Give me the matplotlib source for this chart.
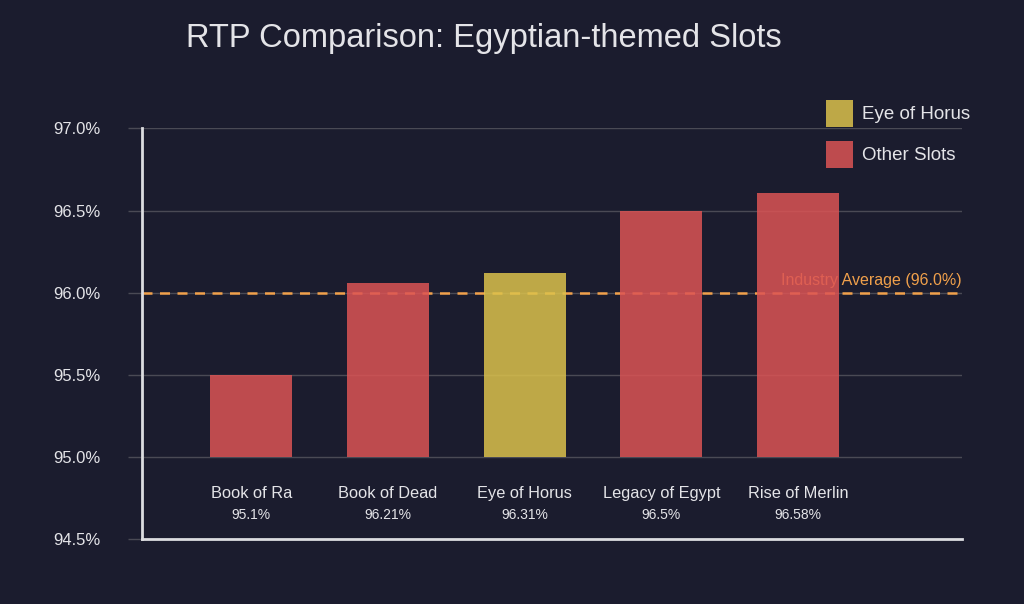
import matplotlib.pyplot as plt
from matplotlib.patches import Patch

# data
slots = ['Book of Ra', 'Book of Dead', 'Eye of Horus', 'Legacy of Egypt', 'Rise of Merlin']
bar_tops = [95.5, 96.06, 96.12, 96.5, 96.61]
rtp_labels = ['95.1%', '96.21%', '96.31%', '96.5%', '96.58%']
highlight = 'Eye of Horus'
industry_avg = 96.0
base = 95.0
yticks = [94.5, 95.0, 95.5, 96.0, 96.5, 97.0]

bg = '#1b1c2e'
red = '#dc5454'
gold = '#dcc24c'
txt = '#e4e4e8'
grid = '#4a4a55'
orange = '#f0a04b'

plt.rcParams['font.family'] = ['Liberation Sans', 'DejaVu Sans']

fig = plt.figure(figsize=(10.24, 6.04), dpi=100, facecolor=bg)
ax = fig.add_axes([0.1387, 0.1076, 0.8008, 0.6797], facecolor=bg)

colors = [gold if s == highlight else red for s in slots]
heights = [t - base for t in bar_tops]
x = list(range(len(slots)))

# average line and label sit behind the bars
ax.axhline(industry_avg, color=orange, linestyle=(0, (4, 3)), linewidth=1.8, zorder=1)
ax.text(5.2, industry_avg + 0.03, 'Industry Average (%.1f%%)' % industry_avg,
        color=orange, fontsize=11.5, ha='right', va='bottom', zorder=1)

ax.bar(x, heights, bottom=base, width=0.6, color=colors, alpha=0.85, zorder=2)

for i, s in enumerate(slots):
    ax.text(i, 94.775, s, color=txt, fontsize=11.8, ha='center', va='center')
    ax.text(i, 94.647, rtp_labels[i], color=txt, fontsize=10, ha='center', va='center')

ax.set_xlim(-0.8, 5.2)
ax.set_ylim(94.5, 97.0)
ax.set_xticks([])
ax.set_yticks(yticks)
ax.set_yticklabels(['%.1f%%' % v for v in yticks])
ax.tick_params(axis='y', colors=grid, labelcolor=txt, labelsize=12, length=10, width=1, pad=20)
ax.yaxis.grid(True, color=grid, linewidth=1, zorder=0)
ax.set_axisbelow(True)

for side in ['top', 'right']:
    ax.spines[side].set_visible(False)
for side in ['left', 'bottom']:
    ax.spines[side].set_color('#dcdce0')
    ax.spines[side].set_linewidth(2)

fig.text(0.472, 0.937, 'RTP Comparison: Egyptian-themed Slots', color=txt,
         fontsize=23.5, ha='center', va='center')

handles = [Patch(facecolor=gold, alpha=0.85, label='Eye of Horus'),
           Patch(facecolor=red, alpha=0.85, label='Other Slots')]
leg = fig.legend(handles=handles, loc='upper left', bbox_to_anchor=(0.792, 0.86),
                 frameon=False, fontsize=13.5, labelcolor=txt, handlelength=1.45,
                 handleheight=1.85, labelspacing=0.75, handletextpad=0.45, borderpad=0.3)

fig.savefig('out.png', dpi=100, facecolor=bg)
